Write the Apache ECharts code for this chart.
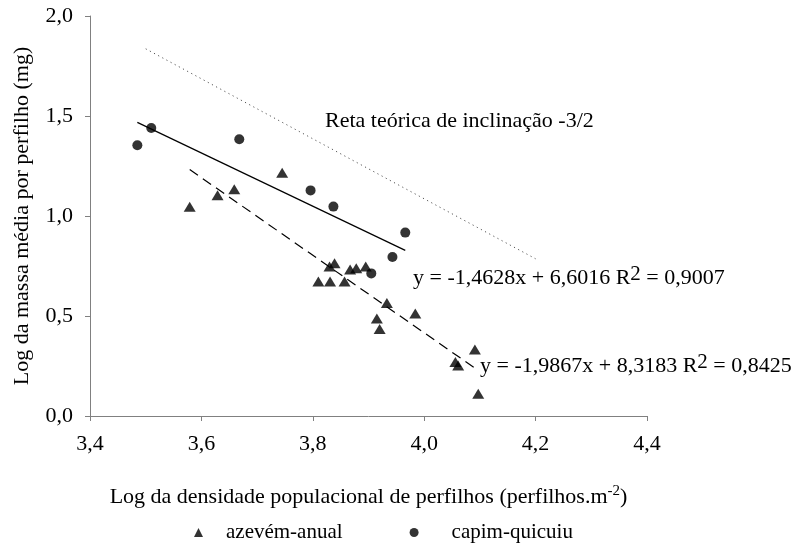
<!DOCTYPE html>
<html>
<head>
<meta charset="utf-8">
<script src="https://cdn.jsdelivr.net/npm/echarts@6/dist/echarts.min.js"></script>
<style>
  html, body { margin: 0; padding: 0; background: #fff; }
  #chart { width: 792px; height: 544px; }
</style>
</head>
<body>
<div id="chart"></div>
<script>
// Log tiller density (x) vs log mean tiller mass (y)
var azevemX = [3.579, 3.629, 3.659, 3.745, 3.810, 3.830, 3.831, 3.839, 3.857, 3.867,
               3.878, 3.895, 3.933, 3.915, 3.920, 3.984, 4.091, 4.056, 4.061, 4.097];
var azevemY = [1.046, 1.104, 1.134, 1.216, 0.672, 0.747, 0.672, 0.764, 0.672, 0.733,
               0.739, 0.747, 0.565, 0.488, 0.435, 0.512, 0.332, 0.270, 0.253, 0.111];

var quicuiuX = [3.485, 3.510, 3.668, 3.796, 3.837, 3.905, 3.943, 3.966];
var quicuiuY = [1.354, 1.440, 1.384, 1.128, 1.047, 0.713, 0.795, 0.917];

// Theoretical self-thinning line, slope -3/2
var theoSlope = -1.5;
var theoIntercept = 7.086;
var theoRange = [3.5, 4.2];

var xTicks = { min: 3.4, max: 4.4, step: 0.2 };
var yTicks = { min: 0, max: 2, step: 0.5 };

var seriesNames = ['azevém-anual', 'capim-quicuiu'];
var eqAzevem = ['y = -1,9867x + 8,3183 R', '2', ' = 0,8425'];
var eqQuicuiu = ['y = -1,4628x + 6,6016 R', '2', ' = 0,9007'];
var theoLabel = 'Reta teórica de inclinação -3/2';

function pairs(xs, ys) {
  return xs.map(function (x, i) { return [x, ys[i]]; });
}

// Least-squares trend line over the range of the data
function trend(xs, ys) {
  var n = xs.length, mx = 0, my = 0;
  for (var i = 0; i < n; i++) { mx += xs[i]; my += ys[i]; }
  mx /= n; my /= n;
  var sxy = 0, sxx = 0;
  for (var j = 0; j < n; j++) {
    sxy += (xs[j] - mx) * (ys[j] - my);
    sxx += (xs[j] - mx) * (xs[j] - mx);
  }
  var b = sxy / sxx, a = my - b * mx;
  var lo = Math.min.apply(null, xs), hi = Math.max.apply(null, xs);
  return [[lo, a + b * lo], [hi, a + b * hi]];
}

function comma(v, d) { return v.toFixed(d).replace('.', ','); }

var FONT = "'Times New Roman', 'Liberation Serif', serif";
var chart = echarts.init(document.getElementById('chart'));

function eqText(parts) {
  return {
    text: '{a|' + parts[0] + '}{s|' + parts[1] + '}{a|' + parts[2] + '}',
    rich: {
      a: { font: '22px ' + FONT, fill: '#000' },
      s: { font: '21px ' + FONT, fill: '#000', verticalAlign: 'top', padding: [0, 0, 8, 0] }
    }
  };
}

chart.setOption({
  animation: false,
  backgroundColor: '#ffffff',
  grid: { left: 90, right: 145, top: 16, bottom: 128, containLabel: false },
  textStyle: { fontFamily: FONT, color: '#000' },
  xAxis: {
    type: 'value',
    min: xTicks.min, max: xTicks.max, interval: xTicks.step,
    axisLine: { onZero: false, lineStyle: { color: '#808080', width: 1 } },
    axisTick: { show: true, length: 5, lineStyle: { color: '#808080' } },
    splitLine: { show: false },
    axisLabel: { fontFamily: FONT, fontSize: 22, color: '#000', margin: 17,
      formatter: function (v) { return comma(v, 1); } },
    name: '{a|Log da densidade populacional de perfilhos (perfilhos.m}{s|-2}{a|)}',
    nameLocation: 'middle',
    nameGap: 68,
    nameTextStyle: {
      rich: {
        a: { fontFamily: FONT, fontSize: 22, color: '#000', lineHeight: 26 },
        s: { fontFamily: FONT, fontSize: 15, color: '#000', verticalAlign: 'top', lineHeight: 15, padding: [0, 0, 10, 0] }
      }
    }
  },
  yAxis: {
    type: 'value',
    min: yTicks.min, max: yTicks.max, interval: yTicks.step,
    axisLine: { show: true, lineStyle: { color: '#808080', width: 1 } },
    axisTick: { show: true, length: 5, lineStyle: { color: '#808080' } },
    splitLine: { show: false },
    axisLabel: { fontFamily: FONT, fontSize: 22, color: '#000', margin: 17,
      formatter: function (v) { return comma(v, 1); } },
    name: 'Log da massa média por perfilho (mg)',
    nameLocation: 'middle',
    nameGap: 57,
    nameTextStyle: { fontFamily: FONT, fontSize: 22, color: '#000' }
  },
  legend: {
    top: 517,
    left: 189,
    itemGap: 67,
    itemWidth: 9,
    itemHeight: 9,
    textStyle: { fontFamily: FONT, fontSize: 21, color: '#000', padding: [0, 0, 0, 18] },
    data: [
      { name: seriesNames[0], icon: 'triangle' },
      { name: seriesNames[1], icon: 'circle',
        textStyle: { fontFamily: FONT, fontSize: 21, color: '#000', padding: [0, 0, 0, 28] } }
    ]
  },
  graphic: [
    { type: 'text', left: 325, top: 110,
      style: { text: theoLabel, font: '22px ' + FONT, fill: '#000' } },
    { type: 'text', left: 413, top: 264, style: eqText(eqQuicuiu) },
    { type: 'text', left: 480, top: 352, style: eqText(eqAzevem) }
  ],
  series: [
    {
      name: seriesNames[0], type: 'scatter', symbol: 'triangle', symbolSize: [12, 10],
      itemStyle: { color: '#000' }, data: pairs(azevemX, azevemY), z: 5
    },
    {
      name: seriesNames[1], type: 'scatter', symbol: 'circle', symbolSize: 10,
      itemStyle: { color: '#000' }, data: pairs(quicuiuX, quicuiuY), z: 5
    },
    {
      name: 'trend-azevem', type: 'line', showSymbol: false, silent: true,
      lineStyle: { color: '#000', width: 1.2, type: [10, 6] },
      data: trend(azevemX, azevemY)
    },
    {
      name: 'trend-quicuiu', type: 'line', showSymbol: false, silent: true,
      lineStyle: { color: '#000', width: 1.2, type: 'solid' },
      data: trend(quicuiuX, quicuiuY)
    },
    {
      name: 'theoretical', type: 'line', showSymbol: false, silent: true,
      lineStyle: { color: '#555', width: 1, type: [1.2, 3.5] },
      data: theoRange.map(function (x) { return [x, theoIntercept + theoSlope * x]; })
    }
  ]
});
</script>
</body>
</html>
